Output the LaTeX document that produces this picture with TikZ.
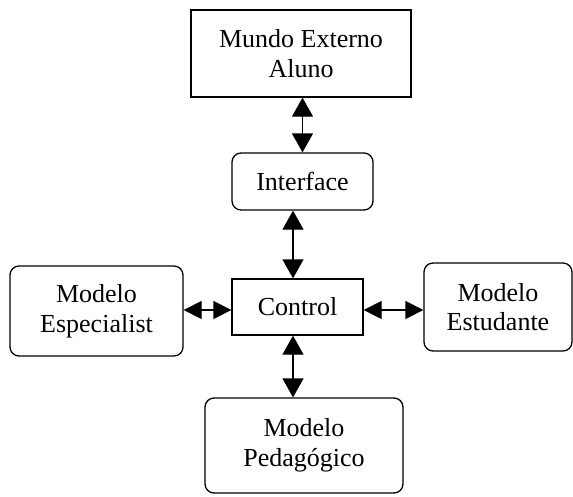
\documentclass[tikz,border=0pt]{standalone}
\usepackage{fontspec}
\setmainfont{Liberation Serif}
\usetikzlibrary{arrows.meta}
\begin{document}
\begin{tikzpicture}[x=1pt,y=-1pt,
  every node/.style={font=\fontsize{26}{29.5}\selectfont, align=center, inner sep=0pt},
  sqbox/.style={draw, line width=1.3pt},
  rbox/.style={draw, line width=1.3pt, rounded corners=9pt},
  link/.style={line width=1.3pt, {Triangle[length=19pt,width=21pt]}-{Triangle[length=19pt,width=21pt]}},
  hlink/.style={line width=1.3pt, {Triangle[length=18pt,width=18pt]}-{Triangle[length=18pt,width=18pt]}}]
\useasboundingbox (0,0) rectangle (573,496);
\node[sqbox, minimum width=220pt, minimum height=87pt] (ext) at (301,53.5) {Mundo Externo\\Aluno};
\node[rbox, minimum width=141pt, minimum height=57pt] (ifc) at (302.5,181.5) {Interface};
\node[sqbox, minimum width=131pt, minimum height=56pt] (ctl) at (297.5,307) {Control};
\node[rbox, minimum width=173pt, minimum height=90pt] (esp) at (96.5,311) {Modelo\\Especialist};
\node[rbox, minimum width=148pt, minimum height=88pt] (est) at (498,307) {Modelo\\Estudante};
\node[rbox, minimum width=198pt, minimum height=95pt] (ped) at (304,445.5) {Modelo\\Pedag\'ogico};
\coordinate (cx) at (293,0);
\coordinate (cy) at (0,310);
\draw[link] (ext.south -| ifc.north) -- (ifc.north);
\draw[link] (ifc.south -| cx) -- (ctl.north -| cx);
\draw[link] (ctl.south -| cx) -- (ped.north -| cx);
\draw[hlink] (esp.east |- cy) -- (ctl.west |- cy);
\draw[hlink] (ctl.east |- cy) -- (est.west |- cy);
\end{tikzpicture}
\end{document}
